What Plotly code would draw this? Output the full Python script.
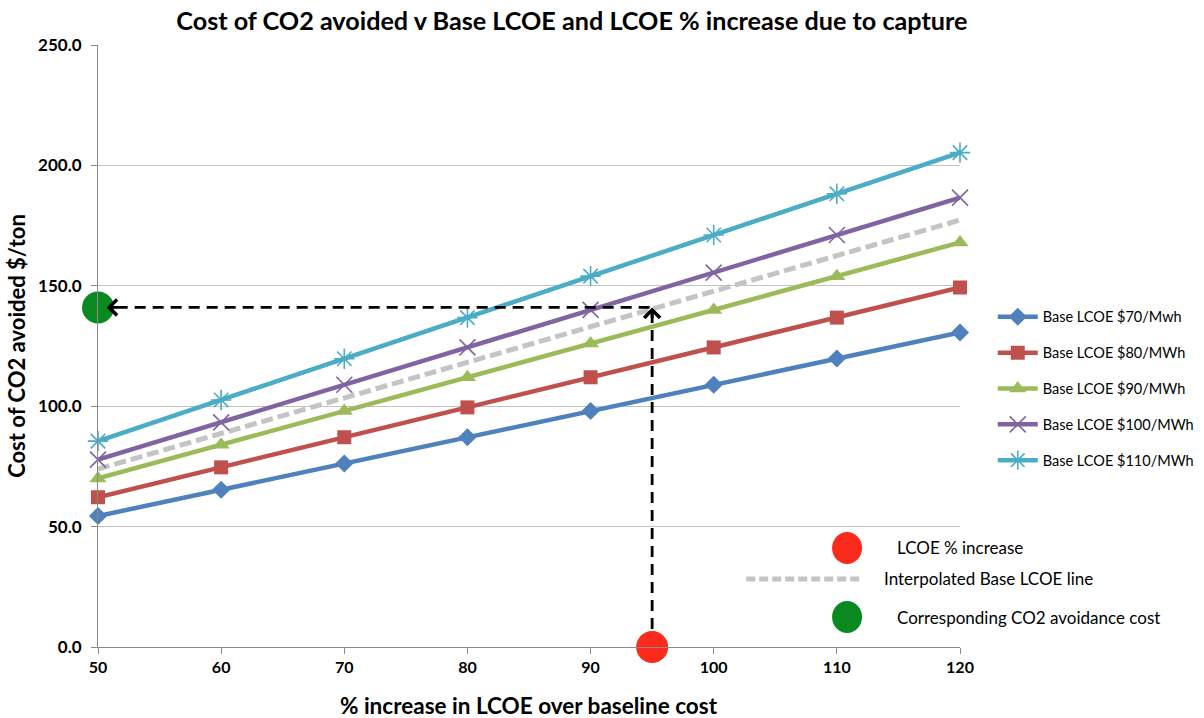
import plotly.graph_objects as go

# % increase in LCOE over the baseline cost
pct_increase = [50, 60, 70, 80, 90, 100, 110, 120]

# Cost of CO2 avoided ($/ton) for each base LCOE
base_70 = [54.4, 65.3, 76.2, 87.1, 98.0, 108.9, 119.8, 130.6]
base_80 = [62.2, 74.6, 87.1, 99.5, 112.0, 124.4, 136.8, 149.3]
base_90 = [70.0, 84.0, 98.0, 112.0, 126.0, 140.0, 154.0, 168.0]
base_100 = [77.8, 93.3, 108.9, 124.4, 140.0, 155.5, 171.1, 186.6]
base_110 = [85.5, 102.6, 119.7, 136.8, 154.0, 171.1, 188.2, 205.3]
interpolated = [73.9, 88.7, 103.4, 118.2, 133.0, 147.8, 162.5, 177.3]

series_names = ["Base LCOE $70/Mwh", "Base LCOE $80/MWh", "Base LCOE $90/MWh",
                "Base LCOE $100/MWh", "Base LCOE $110/MWh"]

# worked example: LCOE increase and the resulting avoidance cost
example_pct = 95
example_cost = 141

y_ticks = [0, 50, 100, 150, 200, 250]
x_ticks = [50, 60, 70, 80, 90, 100, 110, 120]

FONT = "Lato"
colors = ["#4F81BD", "#C0504D", "#9BBB59", "#8064A2", "#4BACC6"]
symbols = ["diamond", "square", "triangle-up", "x-thin-open", "asterisk-open"]
sizes = [14, 14, 15, 16, 17]

fig = go.Figure()

all_series = [base_70, base_80, base_90, base_100, base_110]

# interpolated base LCOE line (drawn first so it sits under the example arrows)
fig.add_trace(go.Scatter(
    x=pct_increase, y=interpolated, mode="lines",
    line=dict(color="#c4c4c4", width=5, dash="12px,5px"),
    showlegend=False, hoverinfo="skip",
))

for name, vals, col, sym, sz in zip(series_names, all_series, colors, symbols, sizes):
    open_sym = sym.endswith("open")
    fig.add_trace(go.Scatter(
        x=pct_increase, y=vals, mode="lines+markers", name=name,
        legendgroup=name,
        line=dict(color=col, width=4.5),
        marker=dict(symbol=sym, size=sz, color=col,
                    line=dict(color=col, width=1.6 if open_sym else 0)),
        cliponaxis=False,
    ))

# example read-off: vertical then horizontal dashed guide
fig.add_trace(go.Scatter(
    x=[example_pct, example_pct, pct_increase[0]],
    y=[0, example_cost, example_cost],
    mode="lines", line=dict(color="black", width=2.8, dash="11px,7px"),
    showlegend=False, hoverinfo="skip", cliponaxis=False,
))

# red marker: chosen LCOE % increase; green marker: resulting CO2 cost
fig.add_trace(go.Scatter(
    x=[example_pct], y=[0], mode="markers",
    marker=dict(size=32, color="#FA2A1C"),
    showlegend=False, cliponaxis=False, hoverinfo="skip",
))
fig.add_trace(go.Scatter(
    x=[pct_increase[0]], y=[example_cost], mode="markers",
    marker=dict(size=32, color="#09891F"),
    showlegend=False, cliponaxis=False, hoverinfo="skip",
))

KEY_FONT = dict(family=FONT, size=17, color="black")

annotations = [
    # arrow heads on the guide lines
    dict(x=example_pct, y=example_cost, xref="x", yref="y", ax=0, ay=12,
         showarrow=True, arrowhead=4, arrowsize=1.1, arrowwidth=2.8,
         arrowcolor="black", text=""),
    dict(x=pct_increase[0] + 0.7, y=example_cost, xref="x", yref="y",
         ax=12, ay=0, showarrow=True, arrowhead=4, arrowsize=1.1,
         arrowwidth=2.8, arrowcolor="black", text=""),
    # x axis title
    dict(x=0.5, y=-0.097, xref="paper", yref="paper", xanchor="center",
         yanchor="middle", showarrow=False,
         text="<b>% increase in LCOE over baseline cost</b>",
         font=dict(family=FONT, size=22.5, color="black")),
    # key for the worked example
    dict(x=0.925, y=0.1645, xref="paper", yref="paper", xanchor="left",
         yanchor="middle", showarrow=False, text="LCOE % increase", font=KEY_FONT),
    dict(x=0.9095, y=0.113, xref="paper", yref="paper", xanchor="left",
         yanchor="middle", showarrow=False, text="Interpolated Base LCOE line",
         font=KEY_FONT),
    dict(x=0.925, y=0.0498, xref="paper", yref="paper", xanchor="left",
         yanchor="middle", showarrow=False, text="Corresponding CO2 avoidance cost",
         font=KEY_FONT),
]

shapes = [
    dict(type="circle", xref="paper", yref="paper", xsizemode="pixel",
         ysizemode="pixel", xanchor=0.869, yanchor=0.1645,
         x0=-15, x1=15, y0=-16, y1=16, fillcolor="#FA2A1C", line=dict(width=0)),
    dict(type="line", xref="paper", yref="paper", x0=0.752, x1=0.886,
         y0=0.113, y1=0.113, line=dict(color="#c4c4c4", width=5, dash="9px,4px")),
    dict(type="circle", xref="paper", yref="paper", xsizemode="pixel",
         ysizemode="pixel", xanchor=0.869, yanchor=0.0498,
         x0=-15, x1=15, y0=-16, y1=16, fillcolor="#09891F", line=dict(width=0)),
]

fig.update_layout(
    width=1204, height=718,
    margin=dict(l=98, r=244, t=45, b=71, autoexpand=False),
    paper_bgcolor="white", plot_bgcolor="white",
    font=dict(family=FONT, color="black"),
    title=dict(text="<b>Cost of CO2 avoided v Base LCOE and LCOE % increase due to capture</b>",
               x=0.475, xref="container", xanchor="center",
               y=0.97, yref="container", yanchor="middle",
               font=dict(family=FONT, size=25.2, color="black")),
    legend=dict(x=1.038, y=0.575, xanchor="left", yanchor="top",
                font=dict(family=FONT, size=14.5, color="black"),
                tracegroupgap=14, itemwidth=40, bgcolor="rgba(0,0,0,0)"),
    xaxis=dict(range=[50, 120], tickvals=x_ticks,
               ticktext=[f"<b>{v}</b>" for v in x_ticks],
               showgrid=False, zeroline=False,
               showline=True, linecolor="#8a8a8a", linewidth=1,
               ticks="outside", ticklen=6, tickcolor="#8a8a8a",
               tickfont=dict(family=FONT, size=16, color="black")),
    yaxis=dict(range=[0, 250], tickvals=y_ticks,
               ticktext=[f"<b>{v:.1f}</b>" for v in y_ticks],
               showgrid=True, gridcolor="#c3c3c3", gridwidth=1, zeroline=False,
               showline=True, linecolor="#8a8a8a", linewidth=1,
               ticks="outside", ticklen=6, tickcolor="#8a8a8a",
               ticklabelstandoff=6,
               tickfont=dict(family=FONT, size=17, color="black"),
               title=dict(text="<b>Cost of CO2 avoided $/ton</b>", standoff=6,
                          font=dict(family=FONT, size=22, color="black"))),
    annotations=annotations,
    shapes=shapes,
)

fig.write_html("out.html")
